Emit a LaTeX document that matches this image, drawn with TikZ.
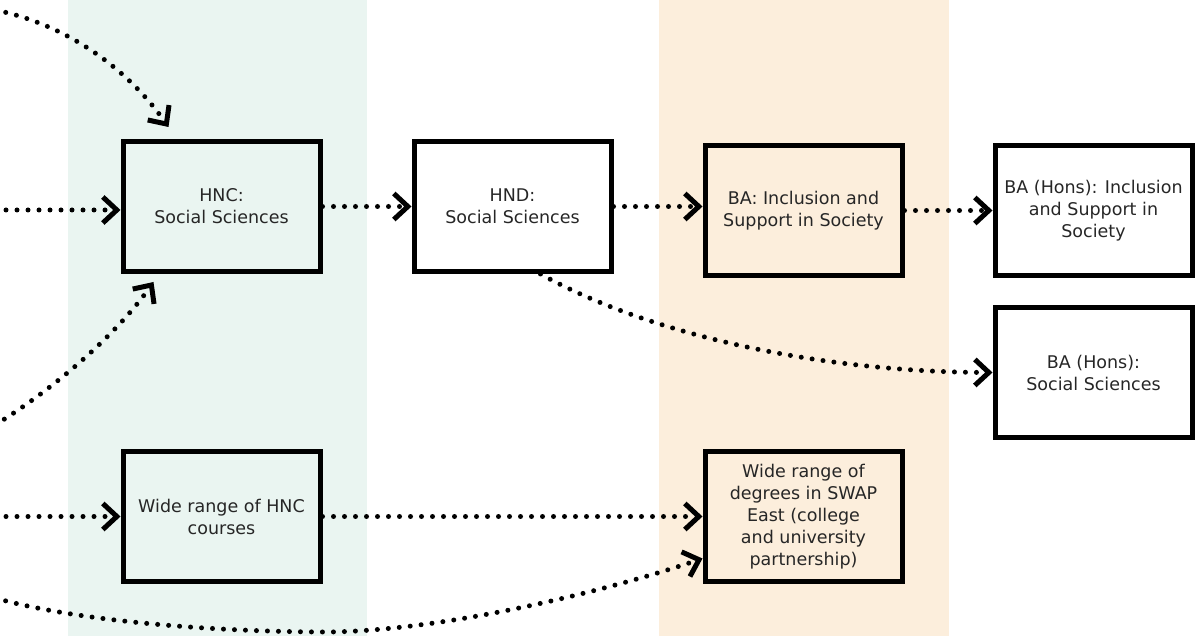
\documentclass[tikz,border=0pt]{standalone}
\usepackage{fontspec}
\setmainfont{DejaVu Sans}
\usetikzlibrary{positioning,arrows.meta}
\definecolor{mygreen}{HTML}{EAF5F1}
\definecolor{myorange}{HTML}{FCEEDC}
\colorlet{mytext}{black!85}

\begin{document}
\begin{tikzpicture}[x=1pt,y=-1pt,
    box/.style={draw,line width=5pt,minimum width=197pt,minimum height=130pt,
    align=center,inner sep=2pt,text=mytext,font=\fontsize{17.5}{22}\selectfont},
    dots/.style={line width=5pt,line cap=round,dash pattern=on 0pt off 11pt,
    -{Straight Barb[length=14pt,width=26pt,line cap=butt,line join=miter]}}]
    \useasboundingbox (0,0) rectangle (1195,636);
    \fill[mygreen] (68,0) rectangle (366.5,636);
    \fill[myorange] (659,0) rectangle (949,636);
    % boxes
    \node[box] (hnc) at (221.5,206.5) {HNC:\\Social Sciences};
    \node[box,right=89pt of hnc] (hnd) {HND:\\Social Sciences};
    \node[box,right=89pt of hnd,yshift=-4pt] (ba) {BA: Inclusion and\\Support in Society};
    \node[box,right=88pt of ba] (bah1) {BA (Hons): Inclusion\\and Support in\\Society};
    \node[box,below=27pt of bah1] (bah2) {BA (Hons):\\Social Sciences};
    \node[box,below=175pt of hnc] (hncw) {Wide range of HNC\\courses};
    \node[box] (deg) at (ba |- hncw) {Wide range of\\degrees in SWAP\\East (college\\and university\\partnership)};
    % incoming from the left
    \foreach \N/\Y in {1/10,2/210,3/425,4/516.5,5/598}
    {\coordinate (in\N) at (-5,\Y);}
    \draw[dots] (in1) .. controls (70,25) and (130,72) .. ([xshift=48pt,yshift=12pt]hnc.north west);
    \draw[dots] (in2) -- (in2 -| hnc.west);
    \draw[dots] (in3) .. controls (60,385) and (120,330) .. ([xshift=33pt,yshift=-8pt]hnc.south west);
    \draw[dots] (in4) -- (hncw.west);
    \draw[dots] (in5) .. controls (80,622) and (220,632) .. (330,632)
    .. controls (450,630) and (610,590) .. ([yshift=-42pt]deg.west);
    % progression
    \draw[dots] (hnc.east) -- (hnd.west);
    \draw[dots] (hnd.east) -- (hnd.east -| ba.west);
    \draw[dots] (ba.east) -- (bah1.west);
    \draw[dots] ([xshift=28pt]hnd.south) .. controls (650,335) and (820,372) .. (bah2.west);
    \draw[dots] (hncw.east) -- (deg.west);
\end{tikzpicture}
\end{document}
